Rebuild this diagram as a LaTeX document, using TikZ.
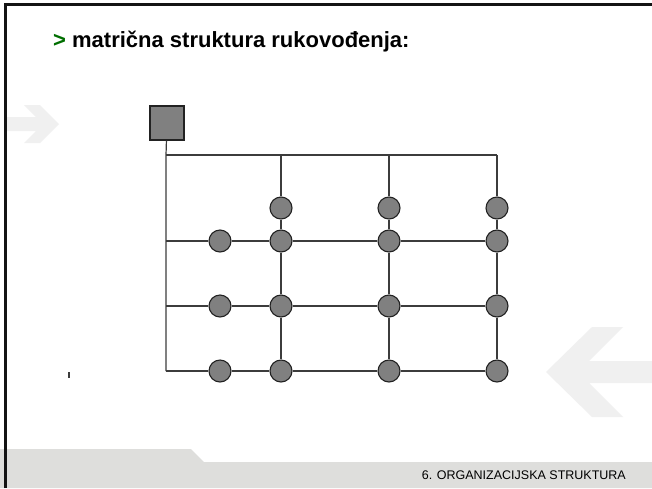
\documentclass[tikz,border=0pt]{standalone}
\usepackage{fontspec}
\setmainfont{Liberation Sans}
\usetikzlibrary{
    shapes.geometric,
    positioning,
    calc
}
\definecolor{bgWhite}{RGB}{255, 255, 255}
\definecolor{frameBlack}{RGB}{20, 20, 20}
\definecolor{arrowGray}{RGB}{240, 240, 240}
\definecolor{footerGray}{RGB}{222, 222, 220}
\definecolor{titleGreen}{RGB}{0, 110, 0}
\definecolor{wireGray}{RGB}{60, 60, 60}
\definecolor{unitFill}{RGB}{128, 128, 128}
\definecolor{unitBorder}{RGB}{34, 34, 34}
\tikzset{
    headBox/.style={
        rectangle,
        minimum width=34pt,
        minimum height=34pt,
        inner sep=0pt,
        fill=unitFill,
        draw=unitBorder,
        line width=1.1pt
    },
    unitDot/.style={
        circle,
        minimum size=22pt,
        inner sep=0pt,
        fill=unitFill,
        draw=unitBorder,
        line width=1.1pt
    },
    gridLine/.style={
        draw=wireGray,
        line width=1.2pt
    },
    bgArrow/.style={
        fill=arrowGray,
        draw=none
    }
}

\begin{document}
\begin{tikzpicture}[x=1pt, y=-1pt]
    \useasboundingbox (0,0) rectangle (652,488);
    \fill[bgWhite] (0,0) rectangle (652,488);

    % Background arrows
    \fill[bgArrow] (6,117) -- (36,117) -- (24,105) -- (40,105) -- (59,124)
        -- (40,143) -- (24,143) -- (36,131) -- (6,131) -- cycle;
    \fill[bgArrow] (652,361) -- (589,361) -- (623,327) -- (592,327) -- (546,372)
        -- (592,417) -- (623,417) -- (589,383) -- (652,383) -- cycle;

    % Footer band
    \fill[footerGray] (0,449) -- (191,449) -- (204,462) -- (652,462)
        -- (652,488) -- (0,488) -- cycle;

    % Frame
    \draw[frameBlack, line width=3pt] (5,488) -- (5,4.5) -- (652,4.5);

    % Title
    \node[anchor=base west, inner sep=0pt, font=\fontsize{22}{26}\selectfont\bfseries] (title) at (53,47)
        {\textcolor{titleGreen}{>} matrična struktura rukovođenja:};

    % Head of the matrix
    \node[headBox] (head) at (167,123) {};

    % Junctions
    \coordinate (t0) at (166,155);
    \coordinate (k1) at (281,155);
    \coordinate (k2) at (389,155);
    \coordinate (k3) at (497,155);
    \coordinate (r1) at (166,241);
    \coordinate (r2) at (166,306);
    \coordinate (r3) at (166,371);

    % Project units (top)
    \node[unitDot] (a1) at (281,208) {};
    \node[unitDot] (a2) at (389,208) {};
    \node[unitDot] (a3) at (497,208) {};

    % Units, row 1
    \node[unitDot] (b0) at (220,241) {};
    \node[unitDot] (b1) at (281,241) {};
    \node[unitDot] (b2) at (389,241) {};
    \node[unitDot] (b3) at (497,241) {};

    % Units, row 2
    \node[unitDot] (c0) at (220,306) {};
    \node[unitDot] (c1) at (281,306) {};
    \node[unitDot] (c2) at (389,306) {};
    \node[unitDot] (c3) at (497,306) {};

    % Units, row 3
    \node[unitDot] (d0) at (220,371) {};
    \node[unitDot] (d1) at (281,371) {};
    \node[unitDot] (d2) at (389,371) {};
    \node[unitDot] (d3) at (497,371) {};

    % Connections
    \draw[gridLine] (head) -- (t0) -- (r1) -- (r2) -- (r3);
    \draw[gridLine] (t0) -- (k1) -- (k2) -- (k3);

    \draw[gridLine] (k1) -- (a1) -- (b1) -- (c1) -- (d1);
    \draw[gridLine] (k2) -- (a2) -- (b2) -- (c2) -- (d2);
    \draw[gridLine] (k3) -- (a3) -- (b3) -- (c3) -- (d3);

    \draw[gridLine] (r1) -- (b0) -- (b1) -- (b2) -- (b3);
    \draw[gridLine] (r2) -- (c0) -- (c1) -- (c2) -- (c3);
    \draw[gridLine] (r3) -- (d0) -- (d1) -- (d2) -- (d3);

    % Stray mark
    \coordinate (markTop) at (69,372);
    \coordinate (markBot) at (69,378);
    \draw[wireGray, line width=1.4pt] (markTop) -- (markBot);

    % Footer
    \node[anchor=base east, inner sep=0pt, font=\fontsize{12.5}{15}\selectfont] (footer) at (626,479)
        {6. ORGANIZACIJSKA STRUKTURA};
\end{tikzpicture}
\end{document}
